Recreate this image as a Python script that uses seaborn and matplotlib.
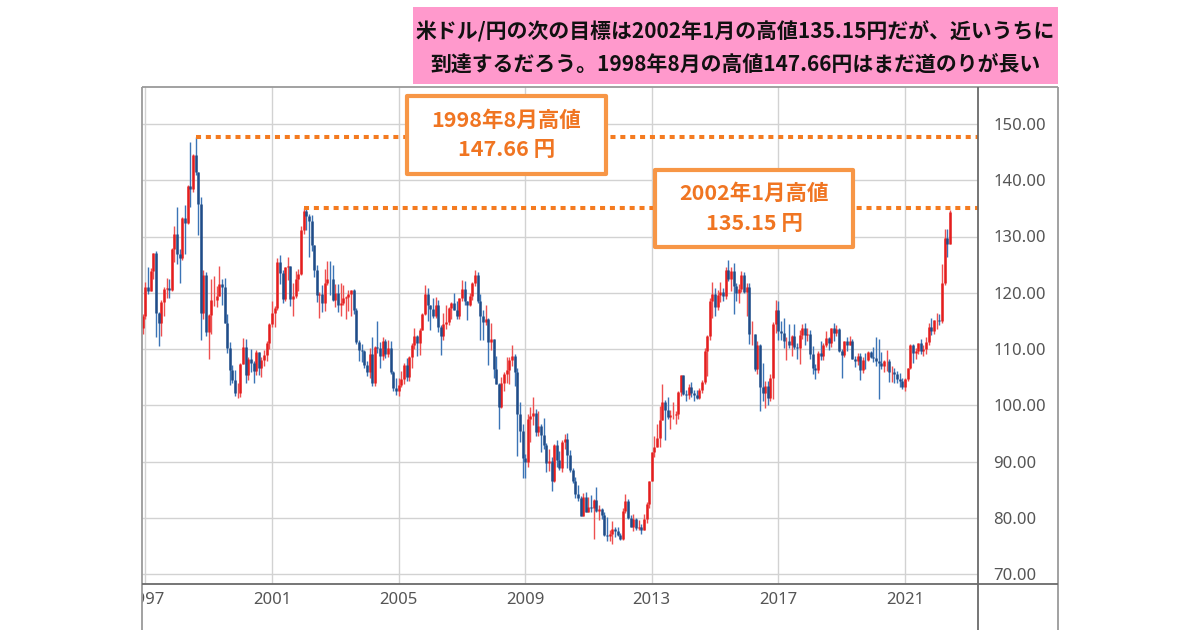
import numpy as np
import pandas as pd
import matplotlib
matplotlib.use("Agg")
import matplotlib.pyplot as plt
import seaborn as sns
from matplotlib.lines import Line2D
from matplotlib.patches import Rectangle
from matplotlib.transforms import Bbox, TransformedBbox

# ---------------- data (monthly USD/JPY, Nov 1996 - Jun 2022) ----------------
start_month = "1996-11"
first_open = 111.9

closes = [
    113.8, 115.9,
    121.1, 120.3, 123.9, 127.0, 116.4, 114.6, 118.4, 120.7, 120.9, 120.5, 127.8, 130.5,
    126.9, 126.1, 133.3, 132.4, 138.9, 138.4, 144.5, 141.4, 135.7, 116.4, 123.2, 113.1,
    116.1, 118.7, 118.8, 119.4, 121.6, 121.0, 114.6, 110.1, 106.2, 104.5, 102.1, 102.2,
    107.4, 110.3, 105.4, 108.2, 107.6, 106.1, 109.4, 106.7, 108.1, 108.9, 111.1, 114.4,
    116.4, 117.3, 125.5, 123.6, 118.9, 124.6, 124.7, 118.9, 119.5, 122.4, 123.3, 131.1,
    134.6, 133.6, 132.7, 128.5, 124.0, 119.6, 119.8, 118.2, 121.8, 122.5, 122.4, 118.8,
    119.9, 117.8, 118.1, 119.0, 119.3, 119.8, 120.5, 116.9, 111.3, 109.8, 109.6, 107.1,
    105.9, 109.1, 103.9, 110.3, 110.2, 108.8, 111.4, 109.2, 110.1, 105.9, 103.1, 102.6,
    103.6, 104.6, 107.1, 105.0, 108.5, 110.8, 112.4, 111.0, 113.4, 116.3, 119.7, 117.9,
    117.2, 115.8, 117.8, 113.9, 112.4, 114.4, 114.8, 117.3, 118.1, 117.0, 115.8, 119.0,
    120.7, 118.5, 117.8, 119.5, 121.7, 123.2, 118.6, 115.8, 114.8, 115.4, 111.2, 111.7,
    106.4, 103.7, 99.7, 104.0, 105.5, 106.2, 108.0, 108.8, 106.0, 98.5, 95.5, 90.6,
    89.9, 97.6, 98.1, 98.6, 95.3, 96.4, 94.7, 93.0, 89.8, 90.1, 86.5, 93.0,
    90.3, 88.9, 93.5, 94.0, 91.2, 88.4, 86.5, 84.2, 83.5, 80.4, 83.7, 81.1,
    82.0, 81.8, 83.1, 81.2, 81.5, 80.5, 77.0, 76.7, 77.1, 78.0, 77.6, 76.9,
    76.2, 81.2, 82.9, 80.0, 78.4, 79.8, 78.1, 78.4, 77.9, 79.8, 82.4, 86.5,
    91.7, 92.6, 94.2, 97.4, 100.5, 99.1, 97.9, 98.2, 98.2, 98.4, 102.4, 105.3,
    102.0, 101.8, 103.2, 102.2, 101.8, 101.3, 102.8, 104.1, 109.6, 112.3, 118.6, 119.8,
    117.5, 119.6, 120.1, 119.4, 124.1, 122.4, 123.9, 121.2, 119.9, 120.6, 123.1, 120.2,
    121.0, 112.6, 112.6, 106.5, 110.7, 103.2, 102.1, 103.4, 101.3, 104.8, 114.5, 116.9,
    113.2, 112.8, 111.4, 111.5, 110.8, 112.4, 110.3, 110.1, 112.5, 113.7, 112.5, 112.7,
    109.2, 106.7, 106.3, 109.3, 108.8, 110.7, 111.9, 111.0, 113.7, 112.9, 113.5, 109.6,
    108.9, 111.4, 110.8, 111.4, 108.3, 107.8, 108.7, 106.3, 108.1, 108.0, 109.5, 108.6,
    108.4, 107.9, 107.5, 106.9, 107.8, 107.9, 105.9, 105.9, 105.5, 104.7, 104.3, 103.3,
    104.7, 106.6, 110.7, 109.3, 109.6, 111.1, 109.7, 110.0, 111.3, 114.0, 113.2, 115.1,
    115.1, 115.0, 121.7, 129.8, 128.7, 134.4,
]

highs = [
    114.0, 116.2,
    122.0, 124.6, 124.4, 127.1, 127.5, 116.5, 118.8, 121.0, 122.6, 122.4, 128.0, 131.8,
    135.2, 127.7, 133.4, 135.6, 139.2, 146.8, 144.7, 147.66, 141.5, 137.0, 124.0, 123.7,
    116.2, 122.5, 123.0, 121.2, 124.8, 122.4, 122.7, 116.2, 111.2, 107.2, 106.3, 104.0,
    107.6, 112.0, 111.8, 108.5, 110.0, 107.8, 109.9, 109.5, 108.6, 109.9, 111.4, 114.6,
    118.6, 117.6, 126.1, 126.8, 124.1, 124.6, 126.3, 124.7, 121.7, 123.8, 124.2, 131.8,
    135.15, 135.0, 134.0, 133.9, 128.5, 125.0, 120.2, 121.4, 124.2, 125.7, 125.6, 125.0,
    121.5, 121.6, 121.7, 121.4, 119.4, 120.5, 120.5, 120.6, 117.3, 111.6, 110.9, 109.9,
    107.9, 110.2, 112.2, 110.5, 114.9, 111.2, 112.2, 111.8, 111.6, 111.5, 106.1, 104.8,
    104.8, 106.1, 107.5, 108.4, 108.7, 111.0, 113.7, 112.5, 113.8, 116.4, 121.4, 120.9,
    117.9, 119.0, 119.2, 118.7, 114.2, 116.4, 117.8, 117.4, 118.3, 119.9, 118.5, 119.1,
    122.2, 122.1, 118.6, 120.0, 121.9, 124.1, 123.7, 119.8, 117.0, 117.9, 115.6, 114.7,
    111.8, 108.8, 104.0, 105.0, 106.0, 108.6, 108.6, 110.7, 109.2, 106.6, 100.5, 96.7,
    91.3, 98.5, 99.7, 101.4, 99.3, 98.9, 96.6, 97.8, 93.3, 92.3, 90.8, 93.1,
    93.8, 91.9, 93.8, 94.9, 95.0, 92.1, 88.8, 87.2, 85.9, 83.9, 84.4, 84.5,
    83.7, 84.0, 83.3, 85.5, 82.2, 81.7, 81.1, 80.2, 77.9, 79.5, 78.4, 78.3,
    77.3, 81.7, 84.2, 83.3, 80.5, 80.6, 80.0, 79.6, 78.9, 80.7, 82.8, 86.6,
    91.7, 94.5, 96.7, 99.9, 103.7, 100.9, 101.5, 99.1, 100.6, 99.0, 102.6, 105.4,
    105.4, 102.8, 103.8, 104.1, 102.7, 102.8, 103.1, 104.5, 110.1, 112.5, 119.1, 121.9,
    120.8, 120.5, 122.0, 120.8, 124.5, 125.9, 124.6, 125.3, 121.7, 121.5, 123.8, 123.7,
    121.7, 121.7, 114.9, 112.7, 111.4, 110.9, 107.5, 104.3, 104.3, 105.5, 114.8, 118.7,
    118.6, 115.0, 115.5, 112.2, 114.4, 112.5, 114.5, 111.1, 113.3, 114.4, 114.7, 113.8,
    113.4, 110.5, 107.3, 109.6, 111.4, 111.0, 113.2, 112.2, 113.7, 114.6, 114.2, 113.8,
    110.0, 111.5, 112.1, 112.4, 111.7, 108.8, 109.3, 109.3, 108.5, 109.3, 109.7, 109.7,
    110.3, 112.2, 111.7, 109.4, 108.1, 109.9, 108.2, 107.0, 106.6, 106.1, 105.7, 104.8,
    104.9, 106.7, 110.9, 110.97, 110.2, 111.1, 111.7, 110.8, 112.1, 114.7, 115.5, 115.2,
    116.4, 116.3, 125.1, 131.3, 131.3, 134.7,
]

lows = [
    110.9, 112.6,
    115.3, 119.7, 120.3, 122.4, 112.2, 110.6, 112.3, 115.9, 119.0, 119.1, 120.3, 125.5,
    125.1, 121.7, 125.9, 126.9, 132.2, 135.2, 138.0, 140.9, 130.2, 111.6, 115.3, 112.4,
    108.3, 112.6, 117.6, 117.4, 119.4, 117.9, 114.6, 109.3, 103.6, 104.0, 101.7, 101.3,
    101.5, 107.3, 104.0, 104.5, 105.9, 103.9, 105.3, 105.3, 105.0, 106.9, 107.8, 110.0,
    114.0, 113.9, 116.9, 121.5, 118.1, 118.5, 122.2, 117.6, 115.8, 119.1, 120.3, 123.2,
    130.5, 131.2, 126.4, 127.5, 122.8, 118.4, 115.6, 116.6, 116.8, 121.4, 119.6, 118.6,
    117.5, 116.6, 115.9, 117.8, 115.3, 116.8, 115.9, 116.2, 110.9, 107.9, 107.7, 106.6,
    105.2, 104.9, 103.4, 103.5, 109.3, 106.7, 108.0, 108.4, 108.6, 105.6, 102.6, 101.8,
    101.7, 103.2, 103.8, 104.4, 104.4, 106.6, 110.0, 108.8, 108.9, 113.4, 116.0, 114.9,
    113.4, 115.5, 115.6, 113.1, 108.9, 111.6, 113.5, 114.2, 115.4, 116.9, 115.4, 115.4,
    118.5, 117.9, 115.2, 117.6, 118.8, 121.2, 118.2, 111.6, 111.6, 114.2, 107.2, 109.9,
    104.9, 103.7, 95.8, 99.6, 102.6, 103.9, 103.8, 106.9, 103.5, 90.9, 93.5, 87.1,
    87.1, 89.1, 93.5, 96.5, 94.5, 94.5, 91.7, 92.3, 88.2, 88.3, 84.8, 86.3,
    89.1, 88.5, 88.1, 92.2, 88.9, 88.2, 86.2, 83.6, 82.9, 80.4, 80.3, 81.1,
    81.0, 81.1, 76.3, 81.1, 79.6, 79.7, 76.8, 75.9, 75.9, 75.3, 76.6, 76.8,
    76.0, 76.1, 80.9, 79.8, 78.3, 77.7, 77.9, 77.9, 77.1, 77.9, 79.0, 81.7,
    86.5, 90.8, 92.5, 92.6, 97.3, 93.8, 97.6, 95.8, 97.6, 96.6, 97.6, 101.6,
    101.8, 100.8, 101.2, 101.4, 100.8, 101.2, 101.1, 102.1, 103.8, 105.2, 111.6, 115.6,
    115.9, 116.9, 118.3, 118.5, 118.9, 122.1, 120.4, 116.2, 118.6, 118.1, 120.2, 119.9,
    115.9, 110.9, 110.7, 106.1, 105.5, 99.0, 100.7, 99.5, 100.1, 100.8, 101.2, 112.9,
    111.6, 111.6, 110.1, 108.1, 110.2, 108.8, 110.0, 108.3, 107.3, 111.7, 110.8, 111.4,
    108.3, 105.6, 104.6, 105.7, 108.1, 108.1, 110.3, 109.8, 110.4, 111.4, 112.3, 109.5,
    104.9, 108.5, 109.7, 110.8, 108.3, 106.8, 107.2, 104.5, 105.7, 106.5, 107.9, 108.4,
    107.7, 107.0, 101.2, 106.4, 105.9, 106.1, 104.2, 104.2, 104.0, 104.0, 103.2, 102.9,
    102.6, 104.4, 106.4, 107.5, 108.3, 109.2, 109.1, 108.7, 109.1, 110.8, 112.5, 112.6,
    113.5, 114.2, 114.7, 121.3, 126.4, 128.6,
]

year_ticks = [1997, 2001, 2005, 2009, 2013, 2017, 2021]
year_labels = ["1997", "2001", "2005", "2009", "2013", "2017", "2021"]
price_ticks = [70, 80, 90, 100, 110, 120, 130, 140, 150]

title_lines = ["米ドル/円の次の目標は2002年1月の高値135.15円だが、近いうちに",
               "到達するだろう。1998年8月の高値147.66円はまだ道のりが長い"]
peak_months = ["1998-08", "2002-01"]
peak_values = [147.66, 135.15]
peak_titles = ["1998年8月高値", "2002年1月高値"]
peak_prices = ["147.66 円", "135.15 円"]

# ---------------- build table ----------------
months = pd.period_range(start_month, periods=len(closes), freq="M")
xpos = np.asarray(months.year + (months.month - 1) / 12.0, dtype=float)
opens = [first_open] + closes[:-1]
df = pd.DataFrame({"x": xpos, "open": opens, "high": highs, "low": lows, "close": closes})
df["up"] = df["close"] >= df["open"]

# ---------------- style ----------------
sns.set_theme(style="white")
plt.rcParams["font.family"] = ["Noto Sans CJK JP", "DejaVu Sans"]

W, H = 1200, 630
fig = plt.figure(figsize=(12, 6.3), dpi=100)
fig.patch.set_facecolor("white")


def fx(px):
    return px / W


def fy(py):
    return 1 - py / H


L, R, T, B = 142, 978, 87, 584
ax = fig.add_axes([fx(L), fy(B), fx(R) - fx(L), fy(T) - fy(B)])
ax.set_facecolor("white")

px_per_year = (905 - 145.4) / 24.0
ax.set_xlim(1997 - (145.4 - L) / px_per_year, 2021 + (R - 905) / px_per_year)
px_per_unit = (574 - 124) / 80.0
ax.set_ylim(70 - (B - 574) / px_per_unit, 150 + (124 - T) / px_per_unit)

for s in ax.spines.values():
    s.set_visible(False)

ax.set_xticks(year_ticks)
ax.set_xticklabels(year_labels)
ax.yaxis.tick_right()
ax.set_yticks(price_ticks)
ax.set_yticklabels([f"{v:.2f}" for v in price_ticks])
ax.tick_params(axis="y", length=0, pad=11, labelsize=12, labelcolor="#555555")
ax.tick_params(axis="x", length=0, pad=6, labelsize=12, labelcolor="#555555")
for lbl in ax.get_yticklabels() + ax.get_xticklabels():
    lbl.set_fontfamily(["Noto Sans", "DejaVu Sans"])
clip = TransformedBbox(Bbox([[fx(L), 0], [fx(1058), 1]]), fig.transFigure)
for lbl in ax.get_xticklabels():
    lbl.set_clip_on(True)
    lbl.set_clip_box(clip)

ax.grid(True, color="#D2D2D2", lw=1.0)
ax.set_axisbelow(True)

# ---------------- candles ----------------
up = df[df["up"]]
dn = df[~df["up"]]
ax.vlines(up["x"], up["low"], up["high"], colors="#EE5050", lw=1.0, zorder=3)
ax.vlines(up["x"], up["open"], up["close"], colors="#E41E1E", lw=1.8, zorder=4)
ax.vlines(dn["x"], dn["low"], dn["high"], colors="#3B74B6", lw=1.0, zorder=3)
ax.vlines(dn["x"], dn["close"], dn["open"], colors="#1F4C88", lw=1.8, zorder=4)

# ---------------- dotted peak lines ----------------
xmax = ax.get_xlim()[1]
for m, v in zip(peak_months, peak_values):
    p = pd.Period(m, freq="M")
    xp = p.year + (p.month - 1) / 12.0
    ax.hlines(v, xp, xmax, colors="#F47B20", lw=2.9,
              linestyles=(0, (1.25, 1.2)), capstyle="butt", zorder=6)

# ---------------- frame ----------------
def fline(x0, y0, x1, y1, color, lw):
    fig.add_artist(Line2D([fx(x0), fx(x1)], [fy(y0), fy(y1)], transform=fig.transFigure,
                          color=color, lw=lw, solid_capstyle="butt", zorder=8))


fline(L, T, 1058, T, "#9A9A9A", 1.3)
fline(L, T, L, 630, "#9A9A9A", 1.3)
fline(1058, T, 1058, 630, "#9A9A9A", 1.3)
fline(R, T, R, 630, "#6A6A6A", 1.3)
fline(L, B, 1058, B, "#6A6A6A", 1.3)

# ---------------- title box ----------------
fig.add_artist(Rectangle((fx(413), fy(84)), fx(1058) - fx(413), fy(7) - fy(84),
                         transform=fig.transFigure, facecolor="#FF99CC",
                         edgecolor="none", zorder=9))
for line, cy in zip(title_lines, [32, 65]):
    fig.text(fx(735.5), fy(cy), line, ha="center", va="center", fontsize=15,
             fontweight="bold", color="#111111", zorder=10)

# ---------------- annotation boxes ----------------
boxes = [(407, 96, 606, 174), (655, 170, 853, 247)]
for (x0, y0, x1, y1), t1, t2 in zip(boxes, peak_titles, peak_prices):
    fig.add_artist(Rectangle((fx(x0), fy(y1)), fx(x1) - fx(x0), fy(y0) - fy(y1),
                             transform=fig.transFigure, facecolor="white",
                             edgecolor="#F79646", lw=3.0, joinstyle="round", zorder=9))
    cx = (x0 + x1) / 2
    cy = (y0 + y1) / 2
    fig.text(fx(cx), fy(cy - 15), t1, ha="center", va="center", fontsize=15.5,
             fontweight="bold", color="#F07522", zorder=10)
    fig.text(fx(cx), fy(cy + 15), t2, ha="center", va="center", fontsize=15.5,
             fontweight="bold", color="#F07522", zorder=10)

fig.savefig("out.png", dpi=100, facecolor="white")
